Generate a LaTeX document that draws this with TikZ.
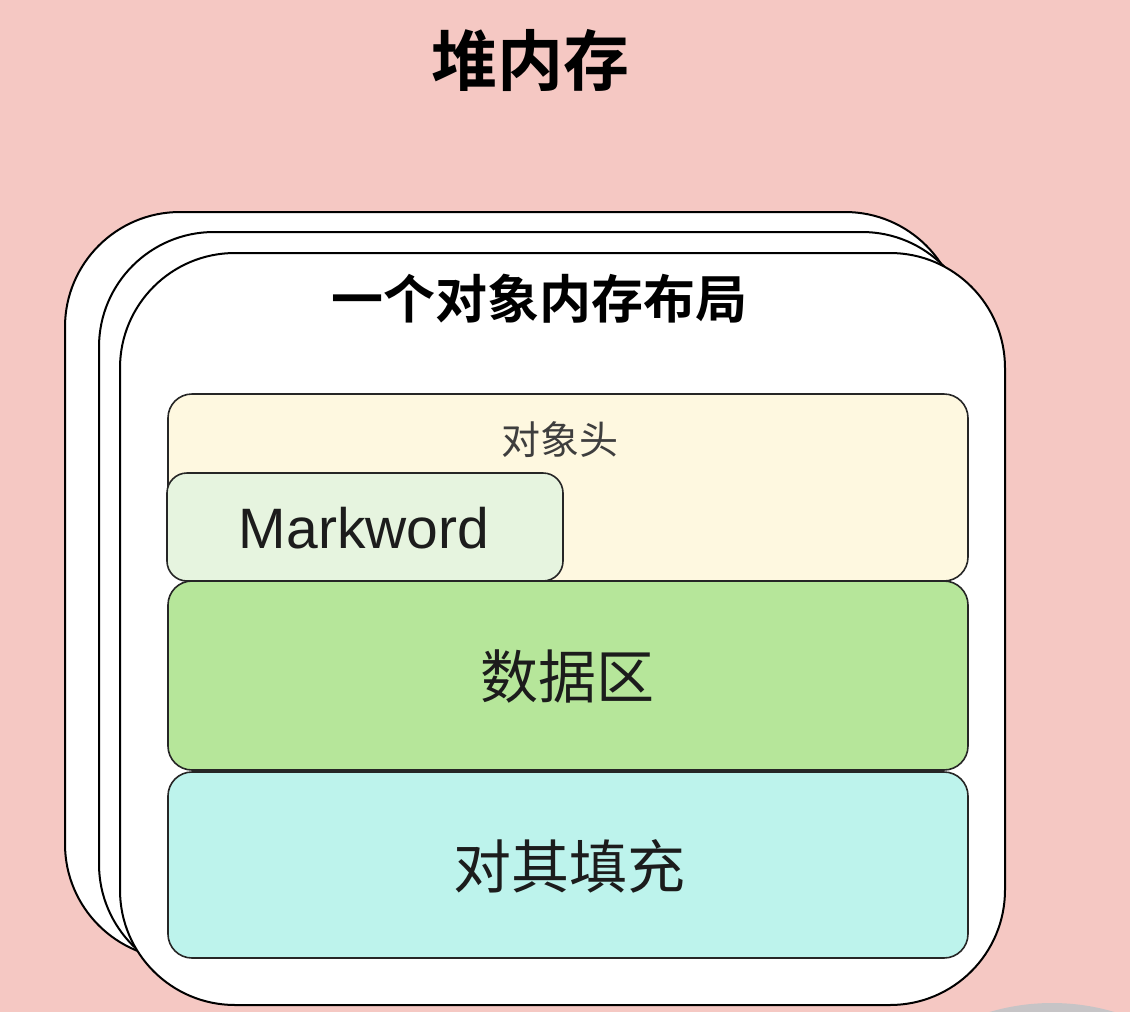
\documentclass[tikz,border=0pt]{standalone}
\usepackage{fontspec}
\newfontfamily\cjk{Noto Sans CJK SC}
\newfontfamily\cjkbold{Noto Sans CJK SC Bold}
\setsansfont{Liberation Sans}
\definecolor{bgpink}{HTML}{F5C8C3}
\definecolor{hdrfill}{HTML}{FEF8E0}
\definecolor{mwfill}{HTML}{E6F4DF}
\definecolor{datafill}{HTML}{B6E69A}
\definecolor{padfill}{HTML}{BDF3EC}
\definecolor{dotgrey}{HTML}{C6C4C6}
\definecolor{ink}{HTML}{1C1C1C}
\tikzset{
  card/.style={draw=black, line width=2pt, fill=white, rounded corners=115pt,
    inner sep=0pt},
  region/.style={draw=black!85, line width=1.6pt, rounded corners=24pt,
    inner sep=0pt, text=ink},
  heading/.style={font=\cjkbold\fontsize{#1}{#1}\selectfont, text=black, inner sep=0pt},
  label/.style={font=\cjk\fontsize{#1}{#1}\selectfont, text=ink, inner sep=0pt}
}
\begin{document}
\begin{tikzpicture}[x=1pt, y=-1pt]
  % page background
  \fill[bgpink] (0,0) rectangle (1130,1012);
  \useasboundingbox (0,0) rectangle (1130,1012);

  % pointer highlight at the lower edge
  \fill[dotgrey] (1052,1223) circle (220);

  % title
  \node[heading=66] (title) at (530,60) {堆内存};

  % stacked object cards, back to front
  \node[card, minimum width=895pt, minimum height=747pt] (cardback)  at (512.5,585.5) {};
  \node[card, minimum width=878pt, minimum height=747pt] (cardmid)   at (538,605.5) {};
  \node[card, minimum width=885pt, minimum height=752pt] (cardfront) at (562.5,629) {};

  \node[heading=52] (layout) at (539,299) {一个对象内存布局};

  % object header with mark word inside
  \node[region, fill=hdrfill, minimum width=800pt, minimum height=187pt]
    (header) at (568,487.5) {};
  \node[label=39, text=ink!85] (headertext) at (560,440) {对象头};
  \node[region, fill=mwfill, minimum width=396pt, minimum height=108pt,
        rounded corners=20pt]
    (markword) at (365,527) {};
  \node[font=\sffamily\fontsize{57}{57}\selectfont, text=ink, inner sep=0pt]
    (markwordtext) at (364,528) {Markword};

  % instance data
  \node[region, fill=datafill, minimum width=800pt, minimum height=189pt]
    (data) at (568,675.5) {};
  \node[label=58] (datatext) at (567,677) {数据区};

  % alignment padding
  \node[region, fill=padfill, minimum width=800pt, minimum height=186pt]
    (padding) at (568,865) {};
  \node[label=58] (paddingtext) at (569,866) {对其填充};
\end{tikzpicture}
\end{document}
